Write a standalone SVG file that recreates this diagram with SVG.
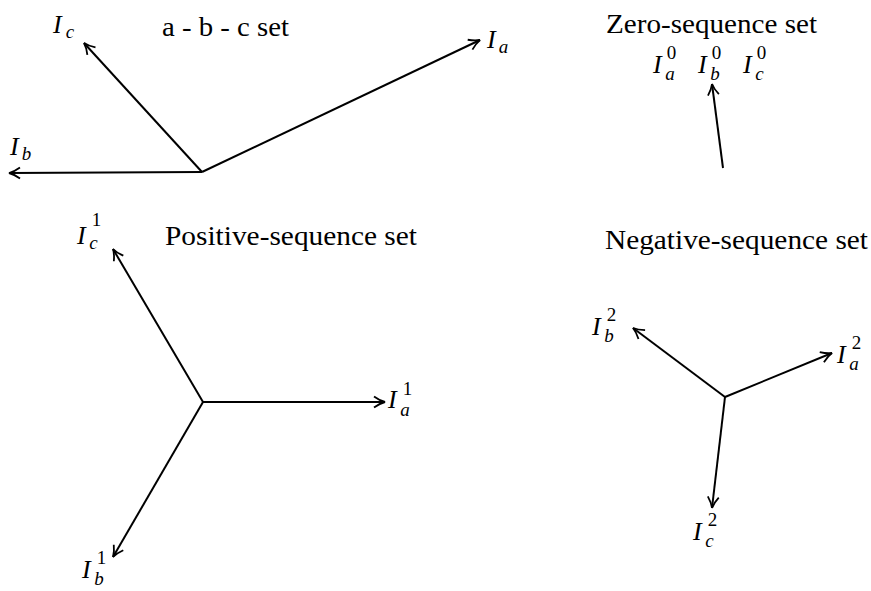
<svg xmlns="http://www.w3.org/2000/svg" width="871" height="591" viewBox="0 0 871 591">
<defs>
<style>
.t{font-family:"Liberation Serif","Times New Roman",serif;font-size:28px;fill:#000}
.m{font-family:"Liberation Serif","Times New Roman",serif;font-style:italic;font-size:26px;fill:#000}
.s{font-style:italic;font-size:19px}
.n{font-style:normal;font-size:19px}
.v{stroke:#000;stroke-width:2;fill:none;marker-end:url(#ah)}
</style>
<marker id="ah" markerUnits="userSpaceOnUse" markerWidth="16" markerHeight="14" viewBox="-13 -7 16 14" refX="0" refY="0" orient="auto">
<path d="M-11,-5.5 Q-5,-1.2 0,0 Q-5,1.2 -11,5.5" fill="none" stroke="#000" stroke-width="1.8"/>
</marker>
</defs>
<rect width="871" height="591" fill="#fff"/>

<g id="connectors">
<line class="v" x1="202" y1="172" x2="480" y2="40"/>
<line class="v" x1="202" y1="172" x2="84" y2="43"/>
<line class="v" x1="202" y1="172" x2="9" y2="173"/>
<line class="v" x1="723" y1="168" x2="712" y2="84"/>
<line class="v" x1="203" y1="402" x2="385" y2="402"/>
<line class="v" x1="203" y1="402" x2="113" y2="249"/>
<line class="v" x1="203" y1="402" x2="113" y2="557"/>
<line class="v" x1="725" y1="397" x2="832" y2="353"/>
<line class="v" x1="725" y1="397" x2="633" y2="328"/>
<line class="v" x1="725" y1="397" x2="712" y2="508"/>
</g>

<g id="title-abc"><text class="t" x="162" y="36" textLength="127" lengthAdjust="spacingAndGlyphs">a - b - c set</text></g>
<g id="title-zero"><text class="t" x="606" y="33" textLength="211" lengthAdjust="spacingAndGlyphs">Zero-sequence set</text></g>
<g id="title-pos"><text class="t" x="165" y="245" textLength="252" lengthAdjust="spacingAndGlyphs">Positive-sequence set</text></g>
<g id="title-neg"><text class="t" x="605" y="249" textLength="263" lengthAdjust="spacingAndGlyphs">Negative-sequence set</text></g>

<g id="label-Ia"><text class="m" x="487" y="48">I<tspan class="s" dx="3" dy="5">a</tspan></text></g>
<g id="label-Ib"><text class="m" x="10" y="155">I<tspan class="s" dx="3" dy="5">b</tspan></text></g>
<g id="label-Ic"><text class="m" x="53" y="33">I<tspan class="s" dx="4" dy="5">c</tspan></text></g>

<g id="label-Ia0"><text class="m" x="653" y="73">I<tspan class="n" dx="5" dy="-14">0</tspan><tspan class="s" dx="-11" dy="21">a</tspan></text></g>
<g id="label-Ib0"><text class="m" x="698" y="73">I<tspan class="n" dx="5" dy="-14">0</tspan><tspan class="s" dx="-11" dy="21">b</tspan></text></g>
<g id="label-Ic0"><text class="m" x="743" y="73">I<tspan class="n" dx="5" dy="-14">0</tspan><tspan class="s" dx="-11" dy="21">c</tspan></text></g>

<g id="label-Ia1"><text class="m" x="388" y="408">I<tspan class="n" dx="6" dy="-13">1</tspan><tspan class="s" dx="-12" dy="21">a</tspan></text></g>
<g id="label-Ib1"><text class="m" x="82" y="578">I<tspan class="n" dx="6" dy="-14">1</tspan><tspan class="s" dx="-12" dy="21">b</tspan></text></g>
<g id="label-Ic1"><text class="m" x="77" y="244">I<tspan class="n" dx="6" dy="-18">1</tspan><tspan class="s" dx="-12" dy="23">c</tspan></text></g>

<g id="label-Ia2"><text class="m" x="837" y="363">I<tspan class="n" dx="6" dy="-14">2</tspan><tspan class="s" dx="-12" dy="21">a</tspan></text></g>
<g id="label-Ib2"><text class="m" x="592" y="335">I<tspan class="n" dx="6" dy="-14">2</tspan><tspan class="s" dx="-12" dy="21">b</tspan></text></g>
<g id="label-Ic2"><text class="m" x="693" y="540">I<tspan class="n" dx="6" dy="-14">2</tspan><tspan class="s" dx="-12" dy="21">c</tspan></text></g>
</svg>
